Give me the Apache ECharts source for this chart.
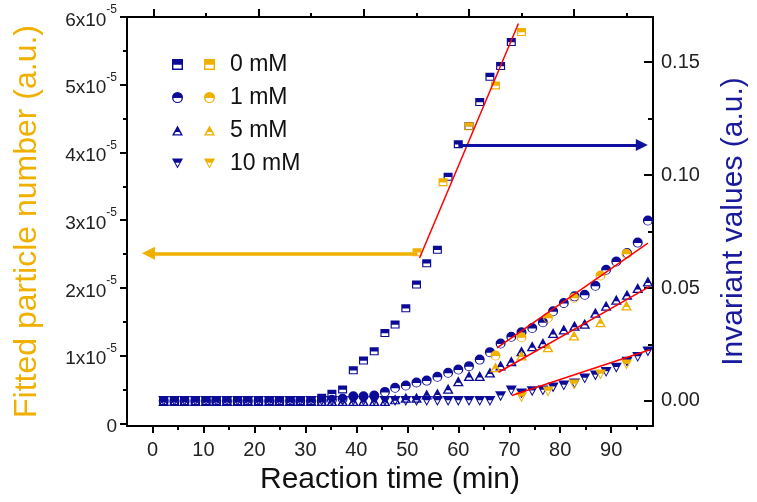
<!DOCTYPE html>
<html>
<head>
<meta charset="utf-8">
<script src="https://cdn.jsdelivr.net/npm/echarts@6/dist/echarts.min.js"></script>
<style>
  html, body { margin: 0; padding: 0; background: #fff; }
  #chart { width: 757px; height: 502px; }
</style>
</head>
<body>
<div id="chart"></div>
<script>
// sampling times (min) of the invariant curves
const times = [2.2, 4.3, 6.3, 8.4, 10.5, 12.5, 14.6, 16.7, 18.7, 20.8, 22.9, 24.9, 27.0, 29.0, 31.1,
  33.2, 35.2, 37.3, 39.4, 41.4, 43.5, 45.6, 47.6, 49.7, 51.8, 53.8, 55.9, 58.0, 60.0, 62.1,
  64.2, 66.2, 68.3, 70.4, 72.4, 74.5, 76.6, 78.6, 80.7, 82.8, 84.8, 86.9, 89.0, 91.0, 93.1, 95.2, 97.2];

// invariant values (right axis), navy markers
const inv0 = [0, 0, 0, 0, 0, 0, 0, 0, 0, 0, 0, 0, 0, 0, 0,
  0.0014, 0.0032, 0.0051, 0.0136, 0.0179, 0.022, 0.0301, 0.0338, 0.041, 0.0515, 0.061, 0.0669, 0.0993, 0.1137, 0.1217,
  0.1324, 0.1435, 0.1483, 0.1589, null, null, null, null, null, null, null, null, null, null, null, null, null];
const inv1 = [0, 0, 0, 0, 0, 0, 0, 0, 0, 0, 0, 0, 0, 0, 0,
  0, 0.0005, 0.001, 0.0021, 0.0021, 0.0024, 0.004, 0.0058, 0.0068, 0.0082, 0.009, 0.0107, 0.0125, 0.0139, 0.0154,
  0.0183, 0.0216, 0.0254, 0.0284, 0.0304, 0.0323, 0.0348, 0.0397, 0.0434, 0.0463, 0.047, 0.051, 0.0581, 0.0617, 0.0655, 0.0701, 0.0799];
const inv5 = [0, 0, 0, 0, 0, 0, 0, 0, 0, 0, 0, 0, 0, 0, 0,
  0, 0, 0, 0, 0, 0, 0, 0.0007, 0.0014, 0.0014, 0.0029, 0.0033, 0.0054, 0.0087, 0.011,
  0.011, 0.0126, 0.0157, 0.0176, 0.022, 0.0242, 0.0257, 0.0301, 0.0316, 0.0333, 0.0342, 0.039, 0.0422, 0.0448, 0.047, 0.05, 0.0529];
const inv10 = [0, 0, 0, 0, 0, 0, 0, 0, 0, 0, 0, 0, 0, 0, 0,
  0, 0, 0, 0, 0, 0, 0, 0, 0, 0, 0, 0, 0, 0, 0,
  0, 0, 0.0021, 0.0046, 0.0033, 0.0043, 0.0046, 0.006, 0.0068, 0.0077, 0.0099, 0.0113, 0.0128, 0.0147, 0.0174, 0.0194, 0.0219];

// fitted particle number (left axis), orange markers
const fitTimes = [51.9, 57.0, 62.1, 67.3, 72.4, 77.6, 82.7, 87.9, 93.0];
const num0 = [2.527e-5, 3.561e-5, 4.385e-5, 4.99e-5, 5.778e-5, null, null, null, null];
const num1 = [null, null, null, 1.0e-5, 1.271e-5, 1.558e-5, 1.853e-5, 2.183e-5, 2.503e-5];
const num5 = [null, null, null, 0.828e-5, 1.0e-5, 1.123e-5, 1.296e-5, 1.493e-5, 1.739e-5];
const num10 = [null, null, null, null, 0.384e-5, 0.468e-5, 0.572e-5, 0.72e-5, 0.867e-5];

// linear fits (right axis units)
const fit0 = [[52.4, 0.0633], [71.8, 0.1671]];
const fit1 = [[67.6, 0.0235], [97.2, 0.0699]];
const fit5 = [[67.9, 0.0127], [97.6, 0.0507]];
const fit10 = [[70.5, 0.0024], [97.6, 0.0227]];

// arrows pointing to each axis
const arrowLeft = [[52.0, 2.51e-5], [-0.8, 2.51e-5]];
const arrowRight = [[60.0, 0.1133], [96.0, 0.1133]];

const labels = ['0 mM', '1 mM', '5 mM', '10 mM'];
const xTicks = [0, 10, 20, 30, 40, 50, 60, 70, 80, 90];
const xMinorTicks = [5, 15, 25, 35, 45, 55, 65, 75, 85, 95];
const leftTicks = [0, 1e-5, 2e-5, 3e-5, 4e-5, 5e-5, 6e-5];
const leftMinorTicks = [0.5e-5, 1.5e-5, 2.5e-5, 3.5e-5, 4.5e-5, 5.5e-5];
const rightTicks = [0, 0.05, 0.10, 0.15];
const rightMinorTicks = [0.025, 0.075, 0.125];

const NAVY = '#0b0b98';
const GOLD = '#f0b000';
const FONT = 'Arial, "Liberation Sans", sans-serif';

// half filled symbols (top filled, bottom hollow)
const SYM_SQUARE = 'path://M0,0H10V10H0Z M1.3,5.3V8.7H8.7V5.3Z';
const SYM_CIRCLE = 'path://M0,5A5,5,0,1,1,10,5A5,5,0,1,1,0,5Z M1.3,5.5A3.7,3.7,0,0,0,8.7,5.5Z';
const SYM_UP = 'path://M5,0L10,9L0,9Z M3.4,5.8L2.1,7.9L7.9,7.9L6.6,5.8Z';
const SYM_DOWN = 'path://M0,0L10,0L5,9Z M3.1,3.8L5,7.1L6.9,3.8Z';
const symbols = [SYM_SQUARE, SYM_CIRCLE, SYM_UP, SYM_DOWN];
const symSizes = [[9, 8], [10, 10], [11, 10], [11, 10]];

function pairs(xs, ys) {
    const out = [];
    xs.forEach((x, i) => { if (ys[i] !== null) out.push([x, ys[i]]); });
    return out;
}

const chart = echarts.init(document.getElementById('chart'), null, { renderer: 'canvas' });

const invSets = [inv0, inv1, inv5, inv10];
const numSets = [num0, num1, num5, num10];
const series = [];

invSets.forEach((ys, i) => {
    series.push({
        name: 'inv ' + labels[i],
        type: 'scatter',
        xAxisIndex: 0,
        yAxisIndex: 2,
        symbol: symbols[i],
        symbolSize: symSizes[i],
        itemStyle: { color: NAVY, opacity: 1 },
        data: pairs(times, ys),
        silent: true,
        z: 2
    });
});

numSets.forEach((ys, i) => {
    series.push({
        name: labels[i],
        type: 'scatter',
        xAxisIndex: 0,
        yAxisIndex: 0,
        symbol: symbols[i],
        symbolSize: symSizes[i],
        itemStyle: { color: GOLD, opacity: 1 },
        data: pairs(fitTimes, ys),
        silent: true,
        z: 3
    });
});

series.push({
    type: 'lines',
    coordinateSystem: 'cartesian2d',
    xAxisIndex: 0,
    yAxisIndex: 2,
    silent: true,
    lineStyle: { color: '#ff0000', width: 1.5, opacity: 1 },
    data: [fit0, fit1, fit5, fit10].map(c => ({ coords: c })),
    z: 4
});
series.push({
    type: 'lines',
    coordinateSystem: 'cartesian2d',
    xAxisIndex: 0,
    yAxisIndex: 0,
    silent: true,
    symbol: ['none', 'triangle'],
    symbolSize: 13,
    lineStyle: { color: GOLD, width: 3.5, opacity: 1 },
    data: [{ coords: arrowLeft }],
    z: 4
});
series.push({
    type: 'lines',
    coordinateSystem: 'cartesian2d',
    xAxisIndex: 0,
    yAxisIndex: 2,
    silent: true,
    symbol: ['none', 'triangle'],
    symbolSize: 12,
    lineStyle: { color: '#1010a0', width: 3, opacity: 1 },
    data: [{ coords: arrowRight }],
    z: 4
});

const black = { color: '#000', width: 2 };
const hiddenLine = { show: false, onZero: false };

const option = {
    animation: false,
    grid: { left: 127, top: 17, width: 533, height: 409 },
    legend: [
        {
            data: labels.map(l => 'inv ' + l),
            orient: 'vertical',
            left: 167, top: 48,
            itemWidth: 11, itemHeight: 11, itemGap: 10,
            selectedMode: false,
            formatter: () => ' ',
            textStyle: { fontSize: 23, fontFamily: FONT }
        },
        {
            data: labels,
            orient: 'vertical',
            left: 199, top: 48,
            itemWidth: 11, itemHeight: 11, itemGap: 10,
            selectedMode: false,
            textStyle: { fontSize: 23, fontFamily: FONT, color: '#111', padding: [0, 0, 0, 10] }
        }
    ],
    xAxis: [
        {
            type: 'value', position: 'bottom', min: -5, max: 98.2,
            name: 'Reaction time (min)', nameLocation: 'middle', nameGap: 38,
            nameTextStyle: { fontSize: 30, fontFamily: FONT, color: '#111' },
            axisLine: { show: true, onZero: false, lineStyle: black },
            axisTick: { show: true, customValues: xTicks, length: 7, lineStyle: black },
            axisLabel: { customValues: xTicks, fontSize: 20, fontFamily: FONT, color: '#222', margin: 14 },
            splitLine: { show: false }
        },
        {
            type: 'value', position: 'bottom', min: -5, max: 98.2,
            axisLine: hiddenLine,
            axisTick: { show: true, customValues: xMinorTicks, length: 4, lineStyle: black },
            axisLabel: { show: false },
            splitLine: { show: false }
        },
        {
            type: 'value', position: 'top', min: -0.5, max: 9.5,
            axisLine: { show: true, onZero: false, lineStyle: black },
            axisTick: { show: true, customValues: [0, 2, 4, 6, 8], length: 8, lineStyle: black },
            axisLabel: { show: false },
            splitLine: { show: false }
        },
        {
            type: 'value', position: 'top', min: -0.5, max: 9.5,
            axisLine: hiddenLine,
            axisTick: { show: true, customValues: [1, 3, 5, 7, 9], length: 4, lineStyle: black },
            axisLabel: { show: false },
            splitLine: { show: false }
        }
    ],
    yAxis: [
        {
            type: 'value', position: 'left', min: -0.04e-5, max: 6e-5,
            name: 'Fitted particle number (a.u.)', nameLocation: 'middle', nameGap: 84, nameRotate: 90,
            nameTextStyle: { fontSize: 32, fontFamily: FONT, color: GOLD },
            axisLine: { show: true, onZero: false, lineStyle: black },
            axisTick: { show: true, customValues: leftTicks, length: 7, lineStyle: black },
            axisLabel: {
                customValues: leftTicks, margin: 10,
                formatter: v => {
                    const n = Math.round(v * 1e5);
                    return n === 0 ? '{b|0}' : '{b|' + n + 'x10}{s|-5}';
                },
                rich: {
                    b: { fontSize: 19, fontFamily: FONT, color: '#222', lineHeight: 26, verticalAlign: 'bottom' },
                    s: { fontSize: 12, fontFamily: FONT, color: '#222', lineHeight: 12, verticalAlign: 'top' }
                }
            },
            splitLine: { show: false }
        },
        {
            type: 'value', position: 'left', min: -0.04e-5, max: 6e-5,
            axisLine: hiddenLine,
            axisTick: { show: true, customValues: leftMinorTicks, length: 4, lineStyle: black },
            axisLabel: { show: false },
            splitLine: { show: false }
        },
        {
            type: 'value', position: 'right', min: -0.0111, max: 0.170,
            name: 'Invariant values (a.u.)', nameLocation: 'middle', nameGap: 66, nameRotate: 90,
            nameTextStyle: { fontSize: 30, fontFamily: FONT, color: '#1a1a9c' },
            axisLine: { show: true, onZero: false, lineStyle: black },
            axisTick: { show: true, inside: true, customValues: rightTicks, length: 9, lineStyle: black },
            axisLabel: { customValues: rightTicks, margin: 8, fontSize: 20, fontFamily: FONT, color: '#222',
                formatter: v => v.toFixed(2) },
            splitLine: { show: false }
        },
        {
            type: 'value', position: 'right', min: -0.0111, max: 0.170,
            axisLine: hiddenLine,
            axisTick: { show: true, inside: true, customValues: rightMinorTicks, length: 5, lineStyle: black },
            axisLabel: { show: false },
            splitLine: { show: false }
        }
    ],
    series: series
};

chart.setOption(option);
window.addEventListener('resize', chart.resize);
</script>
</body>
</html>
